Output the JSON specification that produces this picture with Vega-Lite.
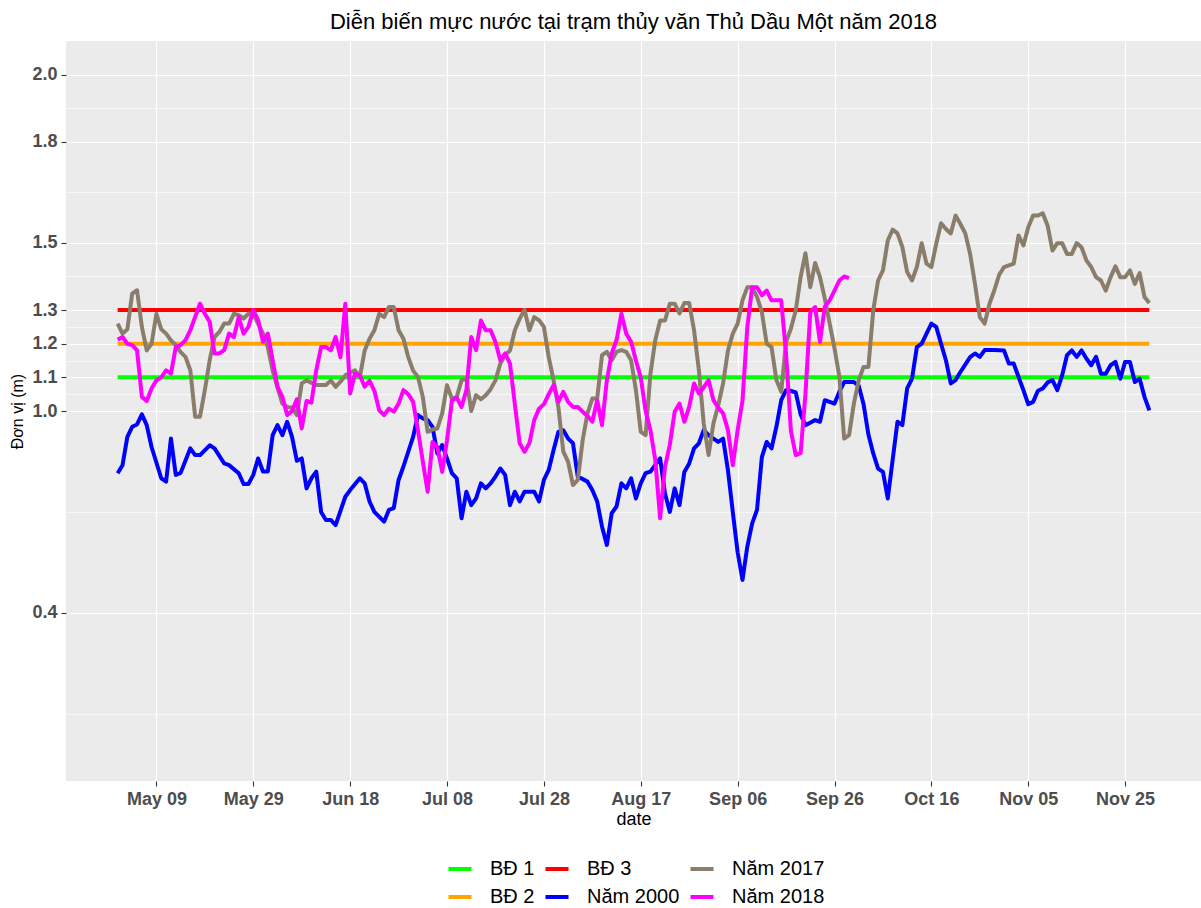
{
"$schema": "https://vega.github.io/schema/vega-lite/v6.json",
"width": 1135, "height": 740,
"autosize": {"type": "none"},
"padding": {"left": 66, "top": 41, "right": 0, "bottom": 127},
"background": "white",
"config": {"view": {"fill": "#EBEBEB", "stroke": null}, "font": "Liberation Sans"},
"title": {"text": "Diễn biến mực nước tại trạm thủy văn Thủ Dầu Một năm 2018", "fontSize": 22, "fontWeight": "normal", "color": "black", "anchor": "middle", "frame": "group", "offset": 7},
"data": {"values": [
{"date":"2018-05-01","series":"BĐ 1","value":1.1},{"date":"2018-11-30","series":"BĐ 1","value":1.1},
{"date":"2018-05-01","series":"BĐ 2","value":1.2},{"date":"2018-11-30","series":"BĐ 2","value":1.2},
{"date":"2018-05-01","series":"BĐ 3","value":1.3},{"date":"2018-11-30","series":"BĐ 3","value":1.3},
{"date":"2018-05-01","series":"Năm 2000","value":0.815},
{"date":"2018-05-02","series":"Năm 2000","value":0.839},
{"date":"2018-05-03","series":"Năm 2000","value":0.923},
{"date":"2018-05-04","series":"Năm 2000","value":0.953},
{"date":"2018-05-05","series":"Năm 2000","value":0.96},
{"date":"2018-05-06","series":"Năm 2000","value":0.99},
{"date":"2018-05-07","series":"Năm 2000","value":0.958},
{"date":"2018-05-08","series":"Năm 2000","value":0.893},
{"date":"2018-05-10","series":"Năm 2000","value":0.80},
{"date":"2018-05-11","series":"Năm 2000","value":0.79},
{"date":"2018-05-12","series":"Năm 2000","value":0.918},
{"date":"2018-05-13","series":"Năm 2000","value":0.81},
{"date":"2018-05-14","series":"Năm 2000","value":0.816},
{"date":"2018-05-16","series":"Năm 2000","value":0.889},
{"date":"2018-05-17","series":"Năm 2000","value":0.869},
{"date":"2018-05-18","series":"Năm 2000","value":0.869},
{"date":"2018-05-20","series":"Năm 2000","value":0.898},
{"date":"2018-05-21","series":"Năm 2000","value":0.889},
{"date":"2018-05-23","series":"Năm 2000","value":0.844},
{"date":"2018-05-24","series":"Năm 2000","value":0.839},
{"date":"2018-05-26","series":"Năm 2000","value":0.815},
{"date":"2018-05-27","series":"Năm 2000","value":0.783},
{"date":"2018-05-28","series":"Năm 2000","value":0.783},
{"date":"2018-05-29","series":"Năm 2000","value":0.81},
{"date":"2018-05-30","series":"Năm 2000","value":0.859},
{"date":"2018-05-31","series":"Năm 2000","value":0.82},
{"date":"2018-06-01","series":"Năm 2000","value":0.82},
{"date":"2018-06-02","series":"Năm 2000","value":0.928},
{"date":"2018-06-03","series":"Năm 2000","value":0.958},
{"date":"2018-06-04","series":"Năm 2000","value":0.928},
{"date":"2018-06-05","series":"Năm 2000","value":0.968},
{"date":"2018-06-06","series":"Năm 2000","value":0.923},
{"date":"2018-06-07","series":"Năm 2000","value":0.852},
{"date":"2018-06-08","series":"Năm 2000","value":0.859},
{"date":"2018-06-09","series":"Năm 2000","value":0.77},
{"date":"2018-06-10","series":"Năm 2000","value":0.80},
{"date":"2018-06-11","series":"Năm 2000","value":0.82},
{"date":"2018-06-12","series":"Năm 2000","value":0.70},
{"date":"2018-06-13","series":"Năm 2000","value":0.676},
{"date":"2018-06-14","series":"Năm 2000","value":0.676},
{"date":"2018-06-15","series":"Năm 2000","value":0.661},
{"date":"2018-06-17","series":"Năm 2000","value":0.745},
{"date":"2018-06-18","series":"Năm 2000","value":0.765},
{"date":"2018-06-20","series":"Năm 2000","value":0.80},
{"date":"2018-06-21","series":"Năm 2000","value":0.785},
{"date":"2018-06-22","series":"Năm 2000","value":0.731},
{"date":"2018-06-23","series":"Năm 2000","value":0.70},
{"date":"2018-06-25","series":"Năm 2000","value":0.671},
{"date":"2018-06-26","series":"Năm 2000","value":0.706},
{"date":"2018-06-27","series":"Năm 2000","value":0.711},
{"date":"2018-06-28","series":"Năm 2000","value":0.795},
{"date":"2018-06-29","series":"Năm 2000","value":0.835},
{"date":"2018-07-01","series":"Năm 2000","value":0.923},
{"date":"2018-07-02","series":"Năm 2000","value":0.988},
{"date":"2018-07-03","series":"Năm 2000","value":0.978},
{"date":"2018-07-04","series":"Năm 2000","value":0.973},
{"date":"2018-07-05","series":"Năm 2000","value":0.953},
{"date":"2018-07-06","series":"Năm 2000","value":0.874},
{"date":"2018-07-07","series":"Năm 2000","value":0.899},
{"date":"2018-07-08","series":"Năm 2000","value":0.859},
{"date":"2018-07-09","series":"Năm 2000","value":0.815},
{"date":"2018-07-10","series":"Năm 2000","value":0.80},
{"date":"2018-07-11","series":"Năm 2000","value":0.681},
{"date":"2018-07-12","series":"Năm 2000","value":0.76},
{"date":"2018-07-13","series":"Năm 2000","value":0.72},
{"date":"2018-07-14","series":"Năm 2000","value":0.74},
{"date":"2018-07-15","series":"Năm 2000","value":0.785},
{"date":"2018-07-16","series":"Năm 2000","value":0.77},
{"date":"2018-07-17","series":"Năm 2000","value":0.785},
{"date":"2018-07-18","series":"Năm 2000","value":0.805},
{"date":"2018-07-19","series":"Năm 2000","value":0.829},
{"date":"2018-07-20","series":"Năm 2000","value":0.81},
{"date":"2018-07-21","series":"Năm 2000","value":0.72},
{"date":"2018-07-22","series":"Năm 2000","value":0.76},
{"date":"2018-07-23","series":"Năm 2000","value":0.731},
{"date":"2018-07-24","series":"Năm 2000","value":0.76},
{"date":"2018-07-26","series":"Năm 2000","value":0.76},
{"date":"2018-07-27","series":"Năm 2000","value":0.731},
{"date":"2018-07-28","series":"Năm 2000","value":0.795},
{"date":"2018-07-29","series":"Năm 2000","value":0.825},
{"date":"2018-07-30","series":"Năm 2000","value":0.884},
{"date":"2018-07-31","series":"Năm 2000","value":0.938},
{"date":"2018-08-01","series":"Năm 2000","value":0.943},
{"date":"2018-08-02","series":"Năm 2000","value":0.918},
{"date":"2018-08-03","series":"Năm 2000","value":0.904},
{"date":"2018-08-04","series":"Năm 2000","value":0.805},
{"date":"2018-08-06","series":"Năm 2000","value":0.79},
{"date":"2018-08-07","series":"Năm 2000","value":0.765},
{"date":"2018-08-08","series":"Năm 2000","value":0.731},
{"date":"2018-08-09","series":"Năm 2000","value":0.656},
{"date":"2018-08-10","series":"Năm 2000","value":0.602},
{"date":"2018-08-11","series":"Năm 2000","value":0.696},
{"date":"2018-08-12","series":"Năm 2000","value":0.716},
{"date":"2018-08-13","series":"Năm 2000","value":0.785},
{"date":"2018-08-14","series":"Năm 2000","value":0.77},
{"date":"2018-08-15","series":"Năm 2000","value":0.80},
{"date":"2018-08-16","series":"Năm 2000","value":0.74},
{"date":"2018-08-17","series":"Năm 2000","value":0.785},
{"date":"2018-08-18","series":"Năm 2000","value":0.815},
{"date":"2018-08-19","series":"Năm 2000","value":0.82},
{"date":"2018-08-20","series":"Năm 2000","value":0.84},
{"date":"2018-08-21","series":"Năm 2000","value":0.859},
{"date":"2018-08-22","series":"Năm 2000","value":0.755},
{"date":"2018-08-23","series":"Năm 2000","value":0.70},
{"date":"2018-08-24","series":"Năm 2000","value":0.77},
{"date":"2018-08-25","series":"Năm 2000","value":0.72},
{"date":"2018-08-26","series":"Năm 2000","value":0.819},
{"date":"2018-08-27","series":"Năm 2000","value":0.844},
{"date":"2018-08-28","series":"Năm 2000","value":0.889},
{"date":"2018-08-29","series":"Năm 2000","value":0.904},
{"date":"2018-08-30","series":"Năm 2000","value":0.943},
{"date":"2018-08-31","series":"Năm 2000","value":0.928},
{"date":"2018-09-01","series":"Năm 2000","value":0.918},
{"date":"2018-09-02","series":"Năm 2000","value":0.908},
{"date":"2018-09-03","series":"Năm 2000","value":0.918},
{"date":"2018-09-04","series":"Năm 2000","value":0.824},
{"date":"2018-09-05","series":"Năm 2000","value":0.70},
{"date":"2018-09-06","series":"Năm 2000","value":0.58},
{"date":"2018-09-07","series":"Năm 2000","value":0.498},
{"date":"2018-09-08","series":"Năm 2000","value":0.597},
{"date":"2018-09-09","series":"Năm 2000","value":0.666},
{"date":"2018-09-10","series":"Năm 2000","value":0.706},
{"date":"2018-09-11","series":"Năm 2000","value":0.863},
{"date":"2018-09-12","series":"Năm 2000","value":0.908},
{"date":"2018-09-13","series":"Năm 2000","value":0.889},
{"date":"2018-09-14","series":"Năm 2000","value":0.953},
{"date":"2018-09-15","series":"Năm 2000","value":1.032},
{"date":"2018-09-16","series":"Năm 2000","value":1.062},
{"date":"2018-09-17","series":"Năm 2000","value":1.06},
{"date":"2018-09-18","series":"Năm 2000","value":1.055},
{"date":"2018-09-19","series":"Năm 2000","value":0.99},
{"date":"2018-09-20","series":"Năm 2000","value":0.958},
{"date":"2018-09-21","series":"Năm 2000","value":0.965},
{"date":"2018-09-22","series":"Năm 2000","value":0.973},
{"date":"2018-09-23","series":"Năm 2000","value":0.968},
{"date":"2018-09-24","series":"Năm 2000","value":1.032},
{"date":"2018-09-25","series":"Năm 2000","value":1.027},
{"date":"2018-09-26","series":"Năm 2000","value":1.022},
{"date":"2018-09-27","series":"Năm 2000","value":1.057},
{"date":"2018-09-28","series":"Năm 2000","value":1.086},
{"date":"2018-09-29","series":"Năm 2000","value":1.086},
{"date":"2018-09-30","series":"Năm 2000","value":1.086},
{"date":"2018-10-01","series":"Năm 2000","value":1.075},
{"date":"2018-10-02","series":"Năm 2000","value":1.02},
{"date":"2018-10-03","series":"Năm 2000","value":0.93},
{"date":"2018-10-04","series":"Năm 2000","value":0.874},
{"date":"2018-10-05","series":"Năm 2000","value":0.829},
{"date":"2018-10-06","series":"Năm 2000","value":0.819},
{"date":"2018-10-07","series":"Năm 2000","value":0.74},
{"date":"2018-10-08","series":"Năm 2000","value":0.854},
{"date":"2018-10-09","series":"Năm 2000","value":0.968},
{"date":"2018-10-10","series":"Năm 2000","value":0.958},
{"date":"2018-10-11","series":"Năm 2000","value":1.067},
{"date":"2018-10-12","series":"Năm 2000","value":1.096},
{"date":"2018-10-13","series":"Năm 2000","value":1.19},
{"date":"2018-10-14","series":"Năm 2000","value":1.2},
{"date":"2018-10-15","series":"Năm 2000","value":1.23},
{"date":"2018-10-16","series":"Năm 2000","value":1.26},
{"date":"2018-10-17","series":"Năm 2000","value":1.25},
{"date":"2018-10-18","series":"Năm 2000","value":1.2},
{"date":"2018-10-19","series":"Năm 2000","value":1.151},
{"date":"2018-10-20","series":"Năm 2000","value":1.082},
{"date":"2018-10-21","series":"Năm 2000","value":1.092},
{"date":"2018-10-22","series":"Năm 2000","value":1.116},
{"date":"2018-10-24","series":"Năm 2000","value":1.16},
{"date":"2018-10-25","series":"Năm 2000","value":1.171},
{"date":"2018-10-26","series":"Năm 2000","value":1.161},
{"date":"2018-10-27","series":"Năm 2000","value":1.181},
{"date":"2018-10-29","series":"Năm 2000","value":1.181},
{"date":"2018-10-31","series":"Năm 2000","value":1.18},
{"date":"2018-11-01","series":"Năm 2000","value":1.141},
{"date":"2018-11-02","series":"Năm 2000","value":1.141},
{"date":"2018-11-03","series":"Năm 2000","value":1.101},
{"date":"2018-11-04","series":"Năm 2000","value":1.062},
{"date":"2018-11-05","series":"Năm 2000","value":1.02},
{"date":"2018-11-06","series":"Năm 2000","value":1.027},
{"date":"2018-11-07","series":"Năm 2000","value":1.06},
{"date":"2018-11-08","series":"Năm 2000","value":1.067},
{"date":"2018-11-09","series":"Năm 2000","value":1.085},
{"date":"2018-11-10","series":"Năm 2000","value":1.092},
{"date":"2018-11-11","series":"Năm 2000","value":1.062},
{"date":"2018-11-12","series":"Năm 2000","value":1.106},
{"date":"2018-11-13","series":"Năm 2000","value":1.166},
{"date":"2018-11-14","series":"Năm 2000","value":1.18},
{"date":"2018-11-15","series":"Năm 2000","value":1.161},
{"date":"2018-11-16","series":"Năm 2000","value":1.18},
{"date":"2018-11-17","series":"Năm 2000","value":1.156},
{"date":"2018-11-18","series":"Năm 2000","value":1.136},
{"date":"2018-11-19","series":"Năm 2000","value":1.161},
{"date":"2018-11-20","series":"Năm 2000","value":1.111},
{"date":"2018-11-21","series":"Năm 2000","value":1.111},
{"date":"2018-11-22","series":"Năm 2000","value":1.136},
{"date":"2018-11-23","series":"Năm 2000","value":1.146},
{"date":"2018-11-24","series":"Năm 2000","value":1.096},
{"date":"2018-11-25","series":"Năm 2000","value":1.146},
{"date":"2018-11-26","series":"Năm 2000","value":1.146},
{"date":"2018-11-27","series":"Năm 2000","value":1.086},
{"date":"2018-11-28","series":"Năm 2000","value":1.096},
{"date":"2018-11-29","series":"Năm 2000","value":1.042},
{"date":"2018-11-30","series":"Năm 2000","value":1.002},
{"date":"2018-05-01","series":"Năm 2017","value":1.26},
{"date":"2018-05-02","series":"Năm 2017","value":1.23},
{"date":"2018-05-03","series":"Năm 2017","value":1.243},
{"date":"2018-05-04","series":"Năm 2017","value":1.349},
{"date":"2018-05-05","series":"Năm 2017","value":1.359},
{"date":"2018-05-06","series":"Năm 2017","value":1.25},
{"date":"2018-05-07","series":"Năm 2017","value":1.18},
{"date":"2018-05-08","series":"Năm 2017","value":1.2},
{"date":"2018-05-09","series":"Năm 2017","value":1.289},
{"date":"2018-05-10","series":"Năm 2017","value":1.243},
{"date":"2018-05-11","series":"Năm 2017","value":1.23},
{"date":"2018-05-12","series":"Năm 2017","value":1.21},
{"date":"2018-05-13","series":"Năm 2017","value":1.196},
{"date":"2018-05-14","series":"Năm 2017","value":1.175},
{"date":"2018-05-15","series":"Năm 2017","value":1.161},
{"date":"2018-05-16","series":"Năm 2017","value":1.121},
{"date":"2018-05-17","series":"Năm 2017","value":0.983},
{"date":"2018-05-18","series":"Năm 2017","value":0.983},
{"date":"2018-05-19","series":"Năm 2017","value":1.062},
{"date":"2018-05-20","series":"Năm 2017","value":1.151},
{"date":"2018-05-21","series":"Năm 2017","value":1.22},
{"date":"2018-05-22","series":"Năm 2017","value":1.235},
{"date":"2018-05-23","series":"Năm 2017","value":1.26},
{"date":"2018-05-24","series":"Năm 2017","value":1.26},
{"date":"2018-05-25","series":"Năm 2017","value":1.289},
{"date":"2018-05-26","series":"Năm 2017","value":1.285},
{"date":"2018-05-27","series":"Năm 2017","value":1.275},
{"date":"2018-05-28","series":"Năm 2017","value":1.289},
{"date":"2018-05-29","series":"Năm 2017","value":1.289},
{"date":"2018-05-30","series":"Năm 2017","value":1.26},
{"date":"2018-05-31","series":"Năm 2017","value":1.23},
{"date":"2018-06-01","series":"Năm 2017","value":1.19},
{"date":"2018-06-02","series":"Năm 2017","value":1.12},
{"date":"2018-06-03","series":"Năm 2017","value":1.07},
{"date":"2018-06-04","series":"Năm 2017","value":1.022},
{"date":"2018-06-05","series":"Năm 2017","value":1.012},
{"date":"2018-06-06","series":"Năm 2017","value":1.01},
{"date":"2018-06-07","series":"Năm 2017","value":0.988},
{"date":"2018-06-08","series":"Năm 2017","value":1.082},
{"date":"2018-06-09","series":"Năm 2017","value":1.091},
{"date":"2018-06-11","series":"Năm 2017","value":1.077},
{"date":"2018-06-13","series":"Năm 2017","value":1.077},
{"date":"2018-06-14","series":"Năm 2017","value":1.091},
{"date":"2018-06-15","series":"Năm 2017","value":1.072},
{"date":"2018-06-16","series":"Năm 2017","value":1.087},
{"date":"2018-06-17","series":"Năm 2017","value":1.106},
{"date":"2018-06-19","series":"Năm 2017","value":1.121},
{"date":"2018-06-20","series":"Năm 2017","value":1.101},
{"date":"2018-06-21","series":"Năm 2017","value":1.18},
{"date":"2018-06-22","series":"Năm 2017","value":1.215},
{"date":"2018-06-23","series":"Năm 2017","value":1.24},
{"date":"2018-06-24","series":"Năm 2017","value":1.289},
{"date":"2018-06-25","series":"Năm 2017","value":1.279},
{"date":"2018-06-26","series":"Năm 2017","value":1.309},
{"date":"2018-06-27","series":"Năm 2017","value":1.309},
{"date":"2018-06-28","series":"Năm 2017","value":1.24},
{"date":"2018-06-29","series":"Năm 2017","value":1.215},
{"date":"2018-06-30","series":"Năm 2017","value":1.16},
{"date":"2018-07-01","series":"Năm 2017","value":1.12},
{"date":"2018-07-02","series":"Năm 2017","value":1.101},
{"date":"2018-07-03","series":"Năm 2017","value":1.042},
{"date":"2018-07-04","series":"Năm 2017","value":0.938},
{"date":"2018-07-05","series":"Năm 2017","value":0.945},
{"date":"2018-07-06","series":"Năm 2017","value":0.948},
{"date":"2018-07-07","series":"Năm 2017","value":0.993},
{"date":"2018-07-08","series":"Năm 2017","value":1.077},
{"date":"2018-07-09","series":"Năm 2017","value":1.037},
{"date":"2018-07-10","series":"Năm 2017","value":1.042},
{"date":"2018-07-11","series":"Năm 2017","value":1.091},
{"date":"2018-07-12","series":"Năm 2017","value":1.096},
{"date":"2018-07-13","series":"Năm 2017","value":1.0},
{"date":"2018-07-14","series":"Năm 2017","value":1.047},
{"date":"2018-07-15","series":"Năm 2017","value":1.035},
{"date":"2018-07-16","series":"Năm 2017","value":1.047},
{"date":"2018-07-17","series":"Năm 2017","value":1.065},
{"date":"2018-07-18","series":"Năm 2017","value":1.091},
{"date":"2018-07-19","series":"Năm 2017","value":1.141},
{"date":"2018-07-20","series":"Năm 2017","value":1.166},
{"date":"2018-07-21","series":"Năm 2017","value":1.18},
{"date":"2018-07-22","series":"Năm 2017","value":1.24},
{"date":"2018-07-23","series":"Năm 2017","value":1.274},
{"date":"2018-07-24","series":"Năm 2017","value":1.301},
{"date":"2018-07-25","series":"Năm 2017","value":1.24},
{"date":"2018-07-26","series":"Năm 2017","value":1.279},
{"date":"2018-07-27","series":"Năm 2017","value":1.27},
{"date":"2018-07-28","series":"Năm 2017","value":1.25},
{"date":"2018-07-29","series":"Năm 2017","value":1.16},
{"date":"2018-07-30","series":"Năm 2017","value":1.091},
{"date":"2018-07-31","series":"Năm 2017","value":1.01},
{"date":"2018-08-01","series":"Năm 2017","value":0.88},
{"date":"2018-08-02","series":"Năm 2017","value":0.849},
{"date":"2018-08-03","series":"Năm 2017","value":0.78},
{"date":"2018-08-04","series":"Năm 2017","value":0.795},
{"date":"2018-08-05","series":"Năm 2017","value":0.913},
{"date":"2018-08-06","series":"Năm 2017","value":0.993},
{"date":"2018-08-07","series":"Năm 2017","value":1.037},
{"date":"2018-08-08","series":"Năm 2017","value":1.037},
{"date":"2018-08-09","series":"Năm 2017","value":1.166},
{"date":"2018-08-10","series":"Năm 2017","value":1.176},
{"date":"2018-08-11","series":"Năm 2017","value":1.151},
{"date":"2018-08-12","series":"Năm 2017","value":1.176},
{"date":"2018-08-13","series":"Năm 2017","value":1.181},
{"date":"2018-08-14","series":"Năm 2017","value":1.176},
{"date":"2018-08-15","series":"Năm 2017","value":1.151},
{"date":"2018-08-16","series":"Năm 2017","value":1.062},
{"date":"2018-08-17","series":"Năm 2017","value":0.938},
{"date":"2018-08-18","series":"Năm 2017","value":0.928},
{"date":"2018-08-19","series":"Năm 2017","value":1.111},
{"date":"2018-08-20","series":"Năm 2017","value":1.211},
{"date":"2018-08-21","series":"Năm 2017","value":1.269},
{"date":"2018-08-22","series":"Năm 2017","value":1.269},
{"date":"2018-08-23","series":"Năm 2017","value":1.319},
{"date":"2018-08-24","series":"Năm 2017","value":1.319},
{"date":"2018-08-25","series":"Năm 2017","value":1.29},
{"date":"2018-08-26","series":"Năm 2017","value":1.321},
{"date":"2018-08-27","series":"Năm 2017","value":1.321},
{"date":"2018-08-28","series":"Năm 2017","value":1.24},
{"date":"2018-08-29","series":"Năm 2017","value":1.121},
{"date":"2018-08-30","series":"Năm 2017","value":0.963},
{"date":"2018-08-31","series":"Năm 2017","value":0.869},
{"date":"2018-09-01","series":"Năm 2017","value":0.963},
{"date":"2018-09-02","series":"Năm 2017","value":1.017},
{"date":"2018-09-03","series":"Năm 2017","value":1.082},
{"date":"2018-09-04","series":"Năm 2017","value":1.18},
{"date":"2018-09-05","series":"Năm 2017","value":1.23},
{"date":"2018-09-06","series":"Năm 2017","value":1.26},
{"date":"2018-09-07","series":"Năm 2017","value":1.329},
{"date":"2018-09-08","series":"Năm 2017","value":1.368},
{"date":"2018-09-09","series":"Năm 2017","value":1.368},
{"date":"2018-09-10","series":"Năm 2017","value":1.339},
{"date":"2018-09-11","series":"Năm 2017","value":1.294},
{"date":"2018-09-12","series":"Năm 2017","value":1.2},
{"date":"2018-09-13","series":"Năm 2017","value":1.19},
{"date":"2018-09-14","series":"Năm 2017","value":1.092},
{"date":"2018-09-15","series":"Năm 2017","value":1.057},
{"date":"2018-09-16","series":"Năm 2017","value":1.205},
{"date":"2018-09-17","series":"Năm 2017","value":1.245},
{"date":"2018-09-18","series":"Năm 2017","value":1.299},
{"date":"2018-09-19","series":"Năm 2017","value":1.398},
{"date":"2018-09-20","series":"Năm 2017","value":1.469},
{"date":"2018-09-21","series":"Năm 2017","value":1.368},
{"date":"2018-09-22","series":"Năm 2017","value":1.44},
{"date":"2018-09-23","series":"Năm 2017","value":1.398},
{"date":"2018-09-24","series":"Năm 2017","value":1.334},
{"date":"2018-09-25","series":"Năm 2017","value":1.26},
{"date":"2018-09-26","series":"Năm 2017","value":1.186},
{"date":"2018-09-27","series":"Năm 2017","value":1.102},
{"date":"2018-09-28","series":"Năm 2017","value":0.918},
{"date":"2018-09-29","series":"Năm 2017","value":0.928},
{"date":"2018-09-30","series":"Năm 2017","value":1.022},
{"date":"2018-10-01","series":"Năm 2017","value":1.091},
{"date":"2018-10-02","series":"Năm 2017","value":1.131},
{"date":"2018-10-03","series":"Năm 2017","value":1.131},
{"date":"2018-10-04","series":"Năm 2017","value":1.299},
{"date":"2018-10-05","series":"Năm 2017","value":1.388},
{"date":"2018-10-06","series":"Năm 2017","value":1.418},
{"date":"2018-10-07","series":"Năm 2017","value":1.507},
{"date":"2018-10-08","series":"Năm 2017","value":1.539},
{"date":"2018-10-09","series":"Năm 2017","value":1.528},
{"date":"2018-10-10","series":"Năm 2017","value":1.488},
{"date":"2018-10-11","series":"Năm 2017","value":1.413},
{"date":"2018-10-12","series":"Năm 2017","value":1.388},
{"date":"2018-10-13","series":"Năm 2017","value":1.428},
{"date":"2018-10-14","series":"Năm 2017","value":1.499},
{"date":"2018-10-15","series":"Năm 2017","value":1.438},
{"date":"2018-10-16","series":"Năm 2017","value":1.428},
{"date":"2018-10-17","series":"Năm 2017","value":1.497},
{"date":"2018-10-18","series":"Năm 2017","value":1.558},
{"date":"2018-10-19","series":"Năm 2017","value":1.541},
{"date":"2018-10-20","series":"Năm 2017","value":1.528},
{"date":"2018-10-21","series":"Năm 2017","value":1.581},
{"date":"2018-10-22","series":"Năm 2017","value":1.556},
{"date":"2018-10-23","series":"Năm 2017","value":1.528},
{"date":"2018-10-24","series":"Năm 2017","value":1.467},
{"date":"2018-10-25","series":"Năm 2017","value":1.378},
{"date":"2018-10-26","series":"Năm 2017","value":1.279},
{"date":"2018-10-27","series":"Năm 2017","value":1.26},
{"date":"2018-10-28","series":"Năm 2017","value":1.319},
{"date":"2018-10-29","series":"Năm 2017","value":1.359},
{"date":"2018-10-30","series":"Năm 2017","value":1.405},
{"date":"2018-10-31","series":"Năm 2017","value":1.428},
{"date":"2018-11-01","series":"Năm 2017","value":1.433},
{"date":"2018-11-02","series":"Năm 2017","value":1.438},
{"date":"2018-11-03","series":"Năm 2017","value":1.522},
{"date":"2018-11-04","series":"Năm 2017","value":1.492},
{"date":"2018-11-05","series":"Năm 2017","value":1.546},
{"date":"2018-11-06","series":"Năm 2017","value":1.581},
{"date":"2018-11-07","series":"Năm 2017","value":1.581},
{"date":"2018-11-08","series":"Năm 2017","value":1.588},
{"date":"2018-11-09","series":"Năm 2017","value":1.551},
{"date":"2018-11-10","series":"Năm 2017","value":1.477},
{"date":"2018-11-11","series":"Năm 2017","value":1.499},
{"date":"2018-11-12","series":"Năm 2017","value":1.499},
{"date":"2018-11-13","series":"Năm 2017","value":1.467},
{"date":"2018-11-14","series":"Năm 2017","value":1.467},
{"date":"2018-11-15","series":"Năm 2017","value":1.499},
{"date":"2018-11-16","series":"Năm 2017","value":1.487},
{"date":"2018-11-17","series":"Năm 2017","value":1.448},
{"date":"2018-11-18","series":"Năm 2017","value":1.428},
{"date":"2018-11-19","series":"Năm 2017","value":1.398},
{"date":"2018-11-20","series":"Năm 2017","value":1.388},
{"date":"2018-11-21","series":"Năm 2017","value":1.358},
{"date":"2018-11-22","series":"Năm 2017","value":1.398},
{"date":"2018-11-23","series":"Năm 2017","value":1.43},
{"date":"2018-11-24","series":"Năm 2017","value":1.398},
{"date":"2018-11-25","series":"Năm 2017","value":1.398},
{"date":"2018-11-26","series":"Năm 2017","value":1.418},
{"date":"2018-11-27","series":"Năm 2017","value":1.378},
{"date":"2018-11-28","series":"Năm 2017","value":1.41},
{"date":"2018-11-29","series":"Năm 2017","value":1.339},
{"date":"2018-11-30","series":"Năm 2017","value":1.321},
{"date":"2018-05-01","series":"Năm 2018","value":1.212},
{"date":"2018-05-02","series":"Năm 2018","value":1.22},
{"date":"2018-05-03","series":"Năm 2018","value":1.2},
{"date":"2018-05-04","series":"Năm 2018","value":1.196},
{"date":"2018-05-05","series":"Năm 2018","value":1.18},
{"date":"2018-05-06","series":"Năm 2018","value":1.042},
{"date":"2018-05-07","series":"Năm 2018","value":1.03},
{"date":"2018-05-08","series":"Năm 2018","value":1.067},
{"date":"2018-05-09","series":"Năm 2018","value":1.091},
{"date":"2018-05-10","series":"Năm 2018","value":1.1},
{"date":"2018-05-11","series":"Năm 2018","value":1.121},
{"date":"2018-05-12","series":"Năm 2018","value":1.111},
{"date":"2018-05-13","series":"Năm 2018","value":1.19},
{"date":"2018-05-14","series":"Năm 2018","value":1.196},
{"date":"2018-05-15","series":"Năm 2018","value":1.211},
{"date":"2018-05-16","series":"Năm 2018","value":1.24},
{"date":"2018-05-17","series":"Năm 2018","value":1.28},
{"date":"2018-05-18","series":"Năm 2018","value":1.319},
{"date":"2018-05-19","series":"Năm 2018","value":1.289},
{"date":"2018-05-20","series":"Năm 2018","value":1.265},
{"date":"2018-05-21","series":"Năm 2018","value":1.171},
{"date":"2018-05-22","series":"Năm 2018","value":1.171},
{"date":"2018-05-23","series":"Năm 2018","value":1.181},
{"date":"2018-05-24","series":"Năm 2018","value":1.23},
{"date":"2018-05-25","series":"Năm 2018","value":1.22},
{"date":"2018-05-26","series":"Năm 2018","value":1.279},
{"date":"2018-05-27","series":"Năm 2018","value":1.23},
{"date":"2018-05-28","series":"Năm 2018","value":1.25},
{"date":"2018-05-29","series":"Năm 2018","value":1.3},
{"date":"2018-05-30","series":"Năm 2018","value":1.27},
{"date":"2018-05-31","series":"Năm 2018","value":1.206},
{"date":"2018-06-01","series":"Năm 2018","value":1.23},
{"date":"2018-06-02","series":"Năm 2018","value":1.151},
{"date":"2018-06-03","series":"Năm 2018","value":1.072},
{"date":"2018-06-04","series":"Năm 2018","value":1.042},
{"date":"2018-06-05","series":"Năm 2018","value":0.988},
{"date":"2018-06-06","series":"Năm 2018","value":1.0},
{"date":"2018-06-07","series":"Năm 2018","value":1.035},
{"date":"2018-06-08","series":"Năm 2018","value":0.948},
{"date":"2018-06-09","series":"Năm 2018","value":1.03},
{"date":"2018-06-10","series":"Năm 2018","value":1.025},
{"date":"2018-06-11","series":"Năm 2018","value":1.121},
{"date":"2018-06-12","series":"Năm 2018","value":1.19},
{"date":"2018-06-13","series":"Năm 2018","value":1.19},
{"date":"2018-06-14","series":"Năm 2018","value":1.18},
{"date":"2018-06-15","series":"Năm 2018","value":1.22},
{"date":"2018-06-16","series":"Năm 2018","value":1.16},
{"date":"2018-06-17","series":"Năm 2018","value":1.319},
{"date":"2018-06-18","series":"Năm 2018","value":1.052},
{"date":"2018-06-19","series":"Năm 2018","value":1.111},
{"date":"2018-06-20","series":"Năm 2018","value":1.106},
{"date":"2018-06-21","series":"Năm 2018","value":1.072},
{"date":"2018-06-22","series":"Năm 2018","value":1.09},
{"date":"2018-06-23","series":"Năm 2018","value":1.06},
{"date":"2018-06-24","series":"Năm 2018","value":1.002},
{"date":"2018-06-25","series":"Năm 2018","value":0.988},
{"date":"2018-06-26","series":"Năm 2018","value":1.007},
{"date":"2018-06-27","series":"Năm 2018","value":0.998},
{"date":"2018-06-28","series":"Năm 2018","value":1.022},
{"date":"2018-06-29","series":"Năm 2018","value":1.062},
{"date":"2018-06-30","series":"Năm 2018","value":1.05},
{"date":"2018-07-01","series":"Năm 2018","value":1.027},
{"date":"2018-07-02","series":"Năm 2018","value":0.943},
{"date":"2018-07-03","series":"Năm 2018","value":0.85},
{"date":"2018-07-04","series":"Năm 2018","value":0.76},
{"date":"2018-07-05","series":"Năm 2018","value":0.908},
{"date":"2018-07-06","series":"Năm 2018","value":0.893},
{"date":"2018-07-07","series":"Năm 2018","value":0.819},
{"date":"2018-07-08","series":"Năm 2018","value":0.913},
{"date":"2018-07-09","series":"Năm 2018","value":1.03},
{"date":"2018-07-10","series":"Năm 2018","value":1.04},
{"date":"2018-07-11","series":"Năm 2018","value":1.012},
{"date":"2018-07-12","series":"Năm 2018","value":1.062},
{"date":"2018-07-13","series":"Năm 2018","value":1.22},
{"date":"2018-07-14","series":"Năm 2018","value":1.181},
{"date":"2018-07-15","series":"Năm 2018","value":1.269},
{"date":"2018-07-16","series":"Năm 2018","value":1.24},
{"date":"2018-07-17","series":"Năm 2018","value":1.24},
{"date":"2018-07-18","series":"Năm 2018","value":1.205},
{"date":"2018-07-19","series":"Năm 2018","value":1.151},
{"date":"2018-07-20","series":"Năm 2018","value":1.171},
{"date":"2018-07-21","series":"Năm 2018","value":1.141},
{"date":"2018-07-22","series":"Năm 2018","value":1.02},
{"date":"2018-07-23","series":"Năm 2018","value":0.904},
{"date":"2018-07-24","series":"Năm 2018","value":0.879},
{"date":"2018-07-25","series":"Năm 2018","value":0.904},
{"date":"2018-07-26","series":"Năm 2018","value":0.973},
{"date":"2018-07-27","series":"Năm 2018","value":1.007},
{"date":"2018-07-28","series":"Năm 2018","value":1.02},
{"date":"2018-07-29","series":"Năm 2018","value":1.05},
{"date":"2018-07-30","series":"Năm 2018","value":1.077},
{"date":"2018-07-31","series":"Năm 2018","value":1.027},
{"date":"2018-08-01","series":"Năm 2018","value":1.057},
{"date":"2018-08-02","series":"Năm 2018","value":1.027},
{"date":"2018-08-03","series":"Năm 2018","value":1.012},
{"date":"2018-08-04","series":"Năm 2018","value":1.012},
{"date":"2018-08-05","series":"Năm 2018","value":0.998},
{"date":"2018-08-06","series":"Năm 2018","value":0.985},
{"date":"2018-08-07","series":"Năm 2018","value":0.968},
{"date":"2018-08-08","series":"Năm 2018","value":1.032},
{"date":"2018-08-09","series":"Năm 2018","value":0.958},
{"date":"2018-08-10","series":"Năm 2018","value":1.091},
{"date":"2018-08-11","series":"Năm 2018","value":1.171},
{"date":"2018-08-12","series":"Năm 2018","value":1.211},
{"date":"2018-08-13","series":"Năm 2018","value":1.289},
{"date":"2018-08-14","series":"Năm 2018","value":1.23},
{"date":"2018-08-15","series":"Năm 2018","value":1.206},
{"date":"2018-08-16","series":"Năm 2018","value":1.15},
{"date":"2018-08-17","series":"Năm 2018","value":1.1},
{"date":"2018-08-18","series":"Năm 2018","value":1.0},
{"date":"2018-08-19","series":"Năm 2018","value":0.943},
{"date":"2018-08-20","series":"Năm 2018","value":0.854},
{"date":"2018-08-21","series":"Năm 2018","value":0.681},
{"date":"2018-08-22","series":"Năm 2018","value":0.834},
{"date":"2018-08-23","series":"Năm 2018","value":0.9},
{"date":"2018-08-24","series":"Năm 2018","value":0.998},
{"date":"2018-08-25","series":"Năm 2018","value":1.022},
{"date":"2018-08-26","series":"Năm 2018","value":0.968},
{"date":"2018-08-27","series":"Năm 2018","value":1.012},
{"date":"2018-08-28","series":"Năm 2018","value":1.082},
{"date":"2018-08-29","series":"Năm 2018","value":1.052},
{"date":"2018-08-30","series":"Năm 2018","value":1.07},
{"date":"2018-08-31","series":"Năm 2018","value":1.092},
{"date":"2018-09-01","series":"Năm 2018","value":1.032},
{"date":"2018-09-02","series":"Năm 2018","value":1.01},
{"date":"2018-09-03","series":"Năm 2018","value":0.993},
{"date":"2018-09-04","series":"Năm 2018","value":0.943},
{"date":"2018-09-05","series":"Năm 2018","value":0.839},
{"date":"2018-09-06","series":"Năm 2018","value":0.943},
{"date":"2018-09-07","series":"Năm 2018","value":1.03},
{"date":"2018-09-08","series":"Năm 2018","value":1.25},
{"date":"2018-09-09","series":"Năm 2018","value":1.368},
{"date":"2018-09-10","series":"Năm 2018","value":1.368},
{"date":"2018-09-11","series":"Năm 2018","value":1.344},
{"date":"2018-09-12","series":"Năm 2018","value":1.358},
{"date":"2018-09-13","series":"Năm 2018","value":1.329},
{"date":"2018-09-14","series":"Năm 2018","value":1.329},
{"date":"2018-09-15","series":"Năm 2018","value":1.329},
{"date":"2018-09-16","series":"Năm 2018","value":1.17},
{"date":"2018-09-17","series":"Năm 2018","value":0.94},
{"date":"2018-09-18","series":"Năm 2018","value":0.869},
{"date":"2018-09-19","series":"Năm 2018","value":0.875},
{"date":"2018-09-20","series":"Năm 2018","value":1.05},
{"date":"2018-09-21","series":"Năm 2018","value":1.294},
{"date":"2018-09-22","series":"Năm 2018","value":1.309},
{"date":"2018-09-23","series":"Năm 2018","value":1.205},
{"date":"2018-09-24","series":"Năm 2018","value":1.31},
{"date":"2018-09-25","series":"Năm 2018","value":1.329},
{"date":"2018-09-26","series":"Năm 2018","value":1.358},
{"date":"2018-09-27","series":"Năm 2018","value":1.388},
{"date":"2018-09-28","series":"Năm 2018","value":1.40},
{"date":"2018-09-29","series":"Năm 2018","value":1.395}
]},
"mark": {"type": "line", "strokeWidth": 4, "strokeJoin": "round", "clip": true},
"encoding": {
"x": {"field": "date", "type": "temporal",
 "scale": {"type": "utc", "domain": [{"year": 2018, "month": 4, "date": 20, "hours": 8, "utc": true}, {"year": 2018, "month": 12, "date": 10, "hours": 16, "utc": true}]},
 "axis": {"title": "date", "format": "%b %d",
  "values": [{"year":2018,"month":5,"date":9,"utc":true},{"year":2018,"month":5,"date":29,"utc":true},{"year":2018,"month":6,"date":18,"utc":true},{"year":2018,"month":7,"date":8,"utc":true},{"year":2018,"month":7,"date":28,"utc":true},{"year":2018,"month":8,"date":17,"utc":true},{"year":2018,"month":9,"date":6,"utc":true},{"year":2018,"month":9,"date":26,"utc":true},{"year":2018,"month":10,"date":16,"utc":true},{"year":2018,"month":11,"date":5,"utc":true},{"year":2018,"month":11,"date":25,"utc":true}],
  "domain": false, "grid": true, "gridColor": "white", "gridWidth": 1.2,
  "tickColor": "#333333", "tickSize": 5, "tickWidth": 1.1,
  "labelFontSize": 18, "labelFontWeight": "bold", "labelColor": "#4D4D4D", "labelPadding": 4, "labelOverlap": false, "labelFlush": false,
  "titleFontSize": 18, "titleFontWeight": "normal", "titleColor": "black", "titlePadding": 2}},
"y": {"field": "value", "type": "quantitative",
 "scale": {"domain": [-0.1, 2.1], "nice": false, "zero": false},
 "axis": {"title": "Đơn vị (m)",
  "values": [0.1, 0.4, 0.7, 1, 1.05, 1.1, 1.15, 1.2, 1.25, 1.3, 1.4, 1.5, 1.65, 1.8, 1.9, 2],
  "labelExpr": "indexof([0.4,1,1.1,1.2,1.3,1.5,1.8,2], datum.value) >= 0 ? format(datum.value, '.1f') : ''",
  "tickOpacity": {"condition": {"test": "indexof([0.4,1,1.1,1.2,1.3,1.5,1.8,2], datum.value) >= 0", "value": 1}, "value": 0},
  "gridWidth": {"condition": {"test": "indexof([0.4,1,1.1,1.2,1.3,1.5,1.8,2], datum.value) >= 0", "value": 1.2}, "value": 0.6},
  "domain": false, "grid": true, "gridColor": "white",
  "tickColor": "#333333", "tickSize": 5, "tickWidth": 1.1,
  "labelFontSize": 18, "labelFontWeight": "bold", "labelColor": "#4D4D4D", "labelPadding": 4, "labelOverlap": false, "labelFlush": false,
  "titleFontSize": 16, "titleFontWeight": "normal", "titleColor": "black", "titlePadding": 6}},
"color": {"field": "series", "type": "nominal",
 "scale": {"domain": ["BĐ 1", "BĐ 3", "Năm 2017", "BĐ 2", "Năm 2000", "Năm 2018"], "range": ["#00FF00", "#FF0000", "#8B7D6B", "#FFA500", "#0000FF", "#FF00FF"]},
 "legend": {"title": null, "orient": "none", "legendX": 380, "legendY": 814, "columns": 3, "direction": "horizontal", "padding": 0,
  "symbolType": "stroke", "symbolStrokeWidth": 4, "symbolSize": 530,
  "labelFontSize": 20, "labelColor": "black", "labelOffset": 16, "columnPadding": 2, "rowPadding": 4}}
}
}
